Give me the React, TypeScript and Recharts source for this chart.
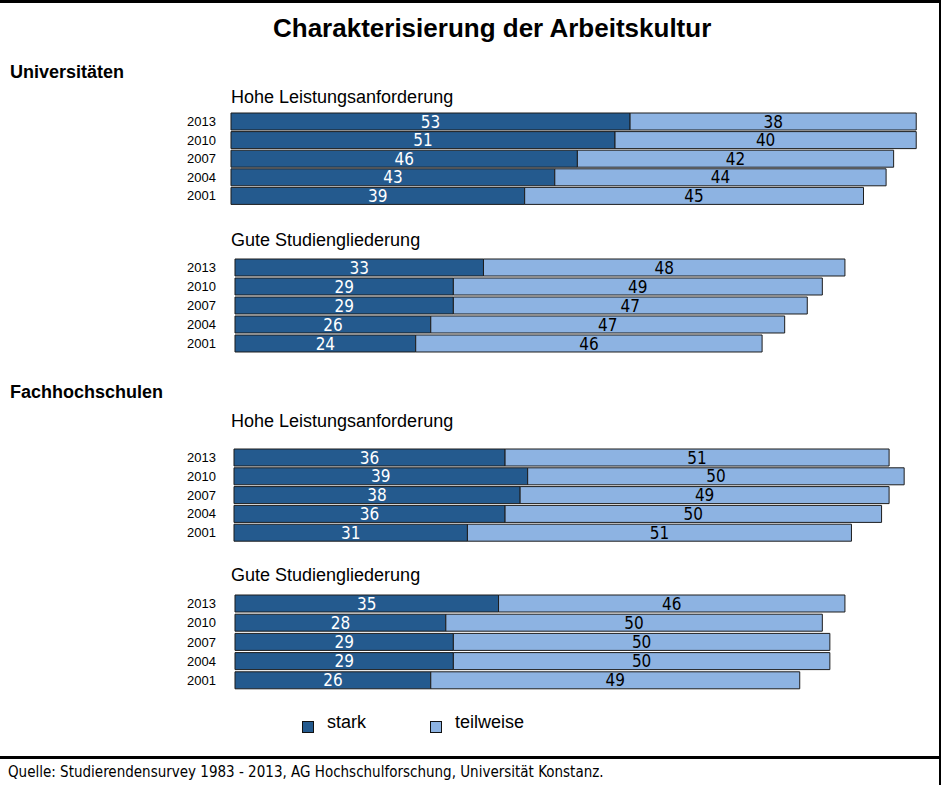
import { BarChart, Bar, XAxis, YAxis, LabelList } from 'recharts'

const years = ['2013', '2010', '2007', '2004', '2001']

const uniHoheStark = [53, 51, 46, 43, 39]
const uniHoheTeil = [38, 40, 42, 44, 45]
const uniGuteStark = [33, 29, 29, 26, 24]
const uniGuteTeil = [48, 49, 47, 47, 46]
const fhHoheStark = [36, 39, 38, 36, 31]
const fhHoheTeil = [51, 50, 49, 50, 51]
const fhGuteStark = [35, 28, 29, 29, 26]
const fhGuteTeil = [46, 50, 50, 50, 49]

const DARK = '#245a8e'
const LIGHT = '#8db3e2'
const NARROW = '"Liberation Sans Narrow", "Arial Narrow", "DejaVu Sans Condensed", sans-serif'
const ARIAL = 'Arial, "Liberation Sans", Helvetica, sans-serif'

// px per percent point, same for all panels
const SCALE = 7.53
const DOMAIN_MAX = 94

interface PanelProps {
  top: number
  pitch: number
  startX: number
  stark: number[]
  teil: number[]
}

function Panel({ top, pitch, startX, stark, teil }: PanelProps) {
  const data = years.map((y, i) => ({ year: y, stark: stark[i], teil: teil[i] }))
  const width = startX + DOMAIN_MAX * SCALE
  return (
    <div style={{ position: 'absolute', left: 0, top }}>
      <BarChart
        width={width}
        height={pitch * 5}
        data={data}
        layout="vertical"
        margin={{ top: 0, right: 0, bottom: 0, left: 0 }}
        barSize={17}
      >
        <XAxis type="number" domain={[0, DOMAIN_MAX]} hide />
        <YAxis
          type="category"
          dataKey="year"
          width={startX}
          interval={0}
          axisLine={false}
          tickLine={false}
          tickSize={0}
          tickMargin={startX - 216}
          tick={{ fill: '#000', fontSize: 13, fontFamily: ARIAL }}
        />
        <Bar dataKey="stark" stackId="a" fill={DARK} stroke="#1c1c1c" strokeWidth={1} isAnimationActive={false}>
          <LabelList dataKey="stark" position="center" fill="#fff" fontSize={17} fontFamily={NARROW} />
        </Bar>
        <Bar dataKey="teil" stackId="a" fill={LIGHT} stroke="#1c1c1c" strokeWidth={1} isAnimationActive={false}>
          <LabelList dataKey="teil" position="center" fill="#000" fontSize={17} fontFamily={NARROW} />
        </Bar>
      </BarChart>
    </div>
  )
}

function Text({ x, base, size, bold, children }: { x: number; base: number; size: number; bold?: boolean; children: string }) {
  return (
    <div
      style={{
        position: 'absolute',
        left: x,
        top: base - 0.8465 * size,
        fontSize: size,
        lineHeight: 1,
        fontFamily: ARIAL,
        fontWeight: bold ? 'bold' : 'normal',
        whiteSpace: 'nowrap',
        color: '#000',
      }}
    >
      {children}
    </div>
  )
}

export default function App() {
  return (
    <div style={{ position: 'absolute', left: 0, top: 0, width: 942, height: 785, overflow: 'hidden', background: '#fff' }}>
      <div style={{ position: 'absolute', left: 0, top: 0, width: 941, height: 3, background: '#000' }} />
      <div style={{ position: 'absolute', left: 939, top: 0, width: 2, height: 785, background: '#000' }} />
      <div style={{ position: 'absolute', left: 0, top: 756, width: 941, height: 3, background: '#000' }} />

      <Text x={273} base={37} size={26} bold>Charakterisierung der Arbeitskultur</Text>
      <Text x={10} base={78} size={18} bold>Universitäten</Text>
      <Text x={10} base={398} size={18} bold>Fachhochschulen</Text>

      <Text x={231} base={103} size={18}>Hohe Leistungsanforderung</Text>
      <Panel top={111.5} pitch={18.6} startX={231} stark={uniHoheStark} teil={uniHoheTeil} />

      <Text x={231} base={246} size={18}>Gute Studiengliederung</Text>
      <Panel top={257.5} pitch={19} startX={235} stark={uniGuteStark} teil={uniGuteTeil} />

      <Text x={231} base={427} size={18}>Hohe Leistungsanforderung</Text>
      <Panel top={447.5} pitch={18.8} startX={234} stark={fhHoheStark} teil={fhHoheTeil} />

      <Text x={231} base={581} size={18}>Gute Studiengliederung</Text>
      <Panel top={593.5} pitch={19.2} startX={235} stark={fhGuteStark} teil={fhGuteTeil} />

      <div style={{ position: 'absolute', left: 302, top: 721, width: 10, height: 10, background: DARK, border: '1px solid #111' }} />
      <Text x={327} base={728} size={18}>stark</Text>
      <div style={{ position: 'absolute', left: 430, top: 721, width: 10, height: 10, background: LIGHT, border: '1px solid #111' }} />
      <Text x={455} base={728} size={18}>teilweise</Text>

      <div
        style={{
          position: 'absolute',
          left: 8,
          top: 765,
          fontSize: 15,
          lineHeight: 1,
          fontFamily: NARROW,
          whiteSpace: 'nowrap',
          color: '#000',
        }}
      >
        Quelle: Studierendensurvey 1983 - 2013, AG Hochschulforschung, Universität Konstanz.
      </div>
    </div>
  )
}
